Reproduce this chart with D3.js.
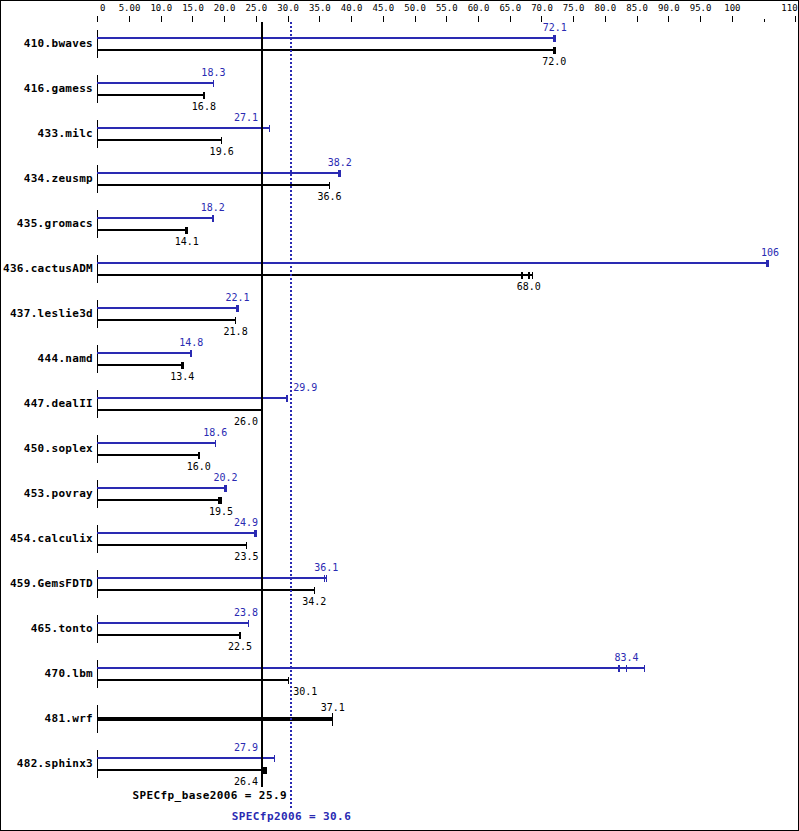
<!DOCTYPE html>
<html>
<head>
<meta charset="utf-8">
<script src="https://cdn.jsdelivr.net/npm/d3@7"></script>
<style>
  html, body { margin: 0; padding: 0; background: #fff; }
  svg { display: block; }
</style>
</head>
<body>
<svg id="chart" width="799" height="831"></svg>
<script>
// ---------------- data ----------------
const benchmarks = ["410.bwaves","416.gamess","433.milc","434.zeusmp","435.gromacs","436.cactusADM",
  "437.leslie3d","444.namd","447.dealII","450.soplex","453.povray","454.calculix","459.GemsFDTD",
  "465.tonto","470.lbm","481.wrf","482.sphinx3"];
const baseRatio = [72.0,16.8,19.6,36.6,14.1,68.0,21.8,13.4,26.0,16.0,19.5,23.5,34.2,22.5,30.1,37.1,26.4];
const peakRatio = [72.1,18.3,27.1,38.2,18.2,106,22.1,14.8,29.9,18.6,20.2,24.9,36.1,23.8,83.4,null,27.9];
const baseRuns = [[72.0,72.0,72.2],[16.8,16.8,16.8],[19.6,19.6,19.6],[36.6,36.6,36.6],[14.0,14.1,14.2],
  [66.9,68.0,68.6],[21.8,21.8,21.8],[13.3,13.4,13.5],[26.0,26.0,26.0],[16.0,16.0,16.0],[19.2,19.5,19.5],
  [23.5,23.5,23.5],[34.2,34.2,34.2],[22.5,22.5,22.5],[30.1,30.1,30.1],[37.1,37.1,37.1],[26.3,26.4,26.6]];
const peakRuns = [[71.9,72.1,72.2],[18.3,18.3,18.3],[27.1,27.1,27.1],[38.1,38.2,38.3],[18.2,18.2,18.2],
  [105.5,105.6,105.8],[22.0,22.1,22.2],[14.8,14.8,14.8],[29.9,29.9,29.9],[18.6,18.6,18.6],[20.1,20.2,20.3],
  [24.8,24.9,25.0],[35.8,36.1,36.1],[23.8,23.8,23.8],[82.2,83.4,86.2],null,[27.9,27.9,27.9]];
const tickValues = [0,5,10,15,20,25,30,35,40,45,50,55,60,65,70,75,80,85,90,95,100,110];
const tickLabels = ["0","5.00","10.0","15.0","20.0","25.0","30.0","35.0","40.0","45.0","50.0","55.0",
  "60.0","65.0","70.0","75.0","80.0","85.0","90.0","95.0","100","110"];
const minorTicks = [105];
const baseMean = 25.9, peakMean = 30.6;
const baseMeanLabel = "SPECfp_base2006 = 25.9";
const peakMeanLabel = "SPECfp2006 = 30.6";

// ---------------- layout ----------------
const W = 799, H = 831;
const BLUE = "#2a2ab2";
const MONO = "'DejaVu Sans Mono', 'Liberation Mono', monospace";
const svg = d3.select("#chart");
const x = d3.scaleLinear().domain([0, 110]).range([97.3, 795.3]);
const rowY = d3.scaleLinear().domain([0, 1]).range([44, 89]); // row centre
const axisY = 22;

// border
svg.append("rect").attr("x", 0.5).attr("y", 0.5).attr("width", W - 1).attr("height", H - 1)
  .attr("fill", "none").attr("stroke", "#000").attr("stroke-width", 1);

// top axis
const axis = d3.axisTop(x).tickValues(tickValues)
  .tickFormat((d, i) => tickLabels[i]).tickSize(6).tickPadding(5.5);
const ag = svg.append("g").attr("transform", `translate(0,${axisY})`).call(axis);
ag.select(".domain").remove();
ag.selectAll(".tick line").attr("stroke", "#000").attr("shape-rendering", "crispEdges");
ag.selectAll(".tick text").attr("fill", "#000").attr("font-family", MONO).attr("font-size", 9);
ag.selectAll(".tick text").filter(d => d === 0).attr("text-anchor", "start").attr("dx", 2.3);
ag.selectAll(".tick text").filter(d => d === 110).attr("text-anchor", "end").attr("dx", 1.8);
const ag2 = svg.append("g").attr("transform", `translate(0,${axisY})`)
  .call(d3.axisTop(x).tickValues(minorTicks).tickSize(3).tickFormat(""));
ag2.select(".domain").remove();
ag2.selectAll(".tick line").attr("stroke", "#000").attr("shape-rendering", "crispEdges");

const baseX = x(baseMean), peakX = x(peakMean);

// label placement avoiding reference lines
function placeLabel(sel, value) {
  const c = x(value);
  const w = sel.node().getComputedTextLength();
  const lo = c - w / 2, hi = c + w / 2;
  if (lo < baseX + 2 && hi > baseX - 2) {
    sel.attr("x", baseX - 3.5).attr("text-anchor", "end");
  } else if (lo < peakX + 2 && hi > peakX - 2) {
    sel.attr("x", peakX + 1.8).attr("text-anchor", "start");
  } else {
    sel.attr("x", c).attr("text-anchor", "middle");
  }
}

const rows = svg.append("g");
benchmarks.forEach((name, i) => {
  const cy = rowY(i);
  const g = rows.append("g");
  // name
  g.append("text").attr("x", 93).attr("y", cy + 2.8).attr("text-anchor", "end")
    .attr("font-family", MONO).attr("font-weight", "bold").attr("font-size", 11)
    .attr("letter-spacing", 0.3).attr("fill", "#000").text(name);
  // zero stub
  g.append("line").attr("x1", x(0)).attr("x2", x(0)).attr("y1", cy - 14).attr("y2", cy + 14)
    .attr("stroke", "#000").attr("stroke-width", 1).attr("shape-rendering", "crispEdges");

  if (peakRuns[i] === null) {
    // base only: thick bar centred on row
    const runs = baseRuns[i];
    const xmax = x(d3.max(runs));
    g.append("line").attr("x1", x(0)).attr("x2", xmax).attr("y1", cy).attr("y2", cy)
      .attr("stroke", "#000").attr("stroke-width", 4).attr("shape-rendering", "crispEdges");
    runs.forEach(r => g.append("line").attr("x1", x(r)).attr("x2", x(r))
      .attr("y1", cy - 6.5).attr("y2", cy + 6.5).attr("stroke", "#000").attr("stroke-width", 1.3)
      .attr("shape-rendering", "crispEdges"));
    const t = g.append("text").attr("y", cy - 8).attr("font-family", MONO).attr("font-size", 10)
      .attr("fill", "#000").text(baseRatio[i].toFixed(1));
    placeLabel(t, baseRatio[i]);
    return;
  }

  const series = [
    {runs: peakRuns[i], val: peakRatio[i], y: cy - 6, color: BLUE, ly: cy - 6 - 7.5},
    {runs: baseRuns[i], val: baseRatio[i], y: cy + 6, color: "#000", ly: cy + 6 + 14.8}
  ];
  series.forEach(s => {
    const xmax = x(d3.max(s.runs));
    g.append("line").attr("x1", x(0)).attr("x2", xmax).attr("y1", s.y).attr("y2", s.y)
      .attr("stroke", s.color).attr("stroke-width", 2).attr("shape-rendering", "crispEdges");
    s.runs.forEach(r => g.append("line").attr("x1", x(r)).attr("x2", x(r))
      .attr("y1", s.y - 3.5).attr("y2", s.y + 3.5).attr("stroke", s.color).attr("stroke-width", 1.5)
      .attr("shape-rendering", "crispEdges"));
    const txt = s.val >= 100 ? d3.format(".0f")(s.val) : s.val.toFixed(1);
    const t = g.append("text").attr("y", s.ly).attr("font-family", MONO).attr("font-size", 10)
      .attr("fill", s.color).text(txt);
    placeLabel(t, s.val);
  });
});

// reference lines
svg.append("line").attr("x1", baseX).attr("x2", baseX).attr("y1", axisY).attr("y2", 787)
  .attr("stroke", "#000").attr("stroke-width", 2).attr("shape-rendering", "crispEdges");
svg.append("line").attr("x1", peakX).attr("x2", peakX).attr("y1", axisY).attr("y2", 808)
  .attr("stroke", BLUE).attr("stroke-width", 2).attr("stroke-dasharray", "2,2")
  .attr("shape-rendering", "crispEdges");

svg.append("text").attr("x", peakX - 4.5).attr("y", 799).attr("text-anchor", "end")
  .attr("font-family", MONO).attr("font-weight", "bold").attr("font-size", 11)
  .attr("letter-spacing", 0.4).attr("fill", "#000").text(baseMeanLabel);
svg.append("text").attr("x", peakX).attr("y", 820).attr("text-anchor", "middle")
  .attr("font-family", MONO).attr("font-weight", "bold").attr("font-size", 11)
  .attr("letter-spacing", 0.4).attr("fill", BLUE).text(peakMeanLabel);
</script>
</body>
</html>
